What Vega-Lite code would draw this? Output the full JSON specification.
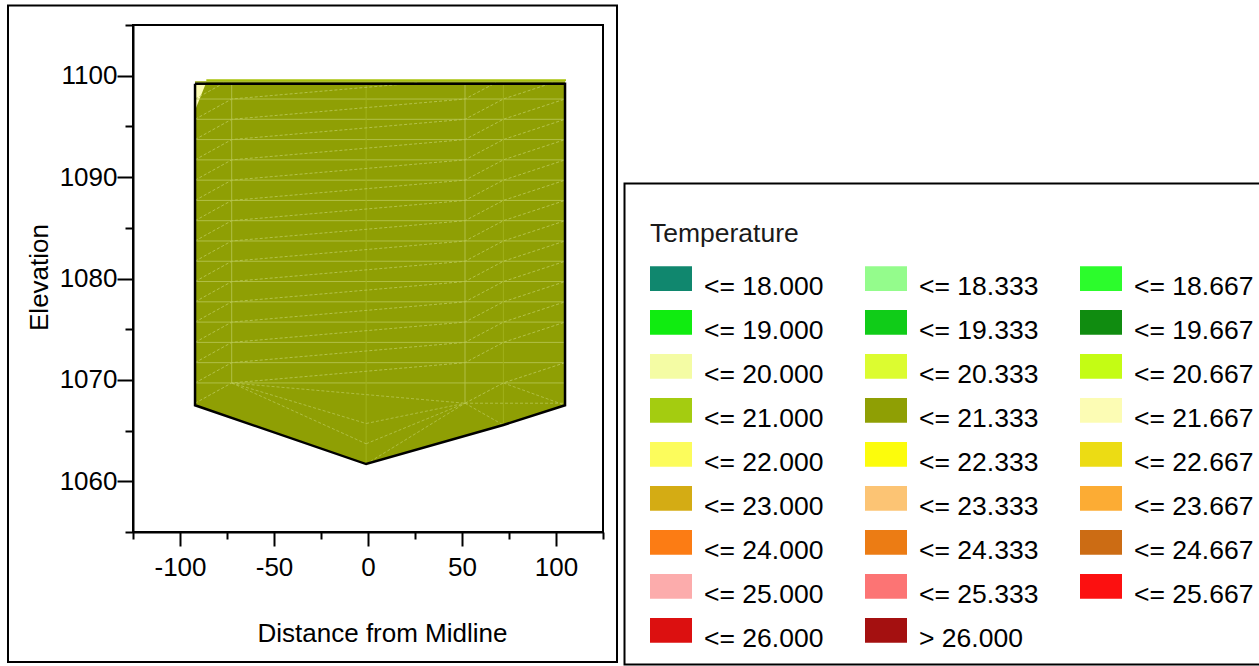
{
  "$schema": "https://vega.github.io/schema/vega-lite/v6.json",
  "width": 470,
  "height": 507,
  "autosize": {"type": "none"},
  "padding": {"left": 133, "top": 25, "right": 656, "bottom": 134},
  "background": "white",
  "config": {
    "view": {"stroke": "black", "strokeWidth": 2},
    "font": "Liberation Sans"
  },
  "datasets": {
    "poly": [
      {"x": -92, "y": 1067.5, "top": 1099.45, "cls": "<= 21.333"},
      {"x": -1, "y": 1061.7, "top": 1099.45, "cls": "<= 21.333"},
      {"x": 72, "y": 1065.55, "top": 1099.45, "cls": "<= 21.333"},
      {"x": 104.8, "y": 1067.5, "top": 1099.45, "cls": "<= 21.333"},
      {"x": -92, "y": 1096.6, "top": 1099.3, "cls": "<= 21.667"},
      {"x": -86.1, "y": 1099.3, "top": 1099.3, "cls": "<= 21.667"}
    ],
    "outline": [
      {"i": 0, "x": -92, "y": 1099.2},
      {"i": 1, "x": -92, "y": 1067.5},
      {"i": 2, "x": -1, "y": 1061.7},
      {"i": 3, "x": 72, "y": 1065.55},
      {"i": 4, "x": 104.8, "y": 1067.5},
      {"i": 5, "x": 104.8, "y": 1099.2},
      {"i": 6, "x": -92, "y": 1099.2}
    ],
    "hlines": [
      {"y": 1069.7}, {"y": 1071.7}, {"y": 1073.7}, {"y": 1075.7}, {"y": 1077.7},
      {"y": 1079.7}, {"y": 1081.7}, {"y": 1083.7}, {"y": 1085.7}, {"y": 1087.7},
      {"y": 1089.7}, {"y": 1091.7}, {"y": 1093.7}, {"y": 1095.7}, {"y": 1097.7}
    ],
    "vstrong": [{"x": -72.5, "y": 1069.7}, {"x": 51.6, "y": 1067.7}],
    "vfaint": [{"x": -1, "y": 1061.7}, {"x": 72, "y": 1065.55}],
    "chains": [
      {"c": "j0", "x": -92, "y": 1067.7}, {"c": "j0", "x": -72.5, "y": 1069.7}, {"c": "j0", "x": 51.6, "y": 1071.7}, {"c": "j0", "x": 72, "y": 1073.7}, {"c": "j0", "x": 104.8, "y": 1075.7},
      {"c": "j1", "x": -92, "y": 1069.7}, {"c": "j1", "x": -72.5, "y": 1071.7}, {"c": "j1", "x": 51.6, "y": 1073.7}, {"c": "j1", "x": 72, "y": 1075.7}, {"c": "j1", "x": 104.8, "y": 1077.7},
      {"c": "j2", "x": -92, "y": 1071.7}, {"c": "j2", "x": -72.5, "y": 1073.7}, {"c": "j2", "x": 51.6, "y": 1075.7}, {"c": "j2", "x": 72, "y": 1077.7}, {"c": "j2", "x": 104.8, "y": 1079.7},
      {"c": "j3", "x": -92, "y": 1073.7}, {"c": "j3", "x": -72.5, "y": 1075.7}, {"c": "j3", "x": 51.6, "y": 1077.7}, {"c": "j3", "x": 72, "y": 1079.7}, {"c": "j3", "x": 104.8, "y": 1081.7},
      {"c": "j4", "x": -92, "y": 1075.7}, {"c": "j4", "x": -72.5, "y": 1077.7}, {"c": "j4", "x": 51.6, "y": 1079.7}, {"c": "j4", "x": 72, "y": 1081.7}, {"c": "j4", "x": 104.8, "y": 1083.7},
      {"c": "j5", "x": -92, "y": 1077.7}, {"c": "j5", "x": -72.5, "y": 1079.7}, {"c": "j5", "x": 51.6, "y": 1081.7}, {"c": "j5", "x": 72, "y": 1083.7}, {"c": "j5", "x": 104.8, "y": 1085.7},
      {"c": "j6", "x": -92, "y": 1079.7}, {"c": "j6", "x": -72.5, "y": 1081.7}, {"c": "j6", "x": 51.6, "y": 1083.7}, {"c": "j6", "x": 72, "y": 1085.7}, {"c": "j6", "x": 104.8, "y": 1087.7},
      {"c": "j7", "x": -92, "y": 1081.7}, {"c": "j7", "x": -72.5, "y": 1083.7}, {"c": "j7", "x": 51.6, "y": 1085.7}, {"c": "j7", "x": 72, "y": 1087.7}, {"c": "j7", "x": 104.8, "y": 1089.7},
      {"c": "j8", "x": -92, "y": 1083.7}, {"c": "j8", "x": -72.5, "y": 1085.7}, {"c": "j8", "x": 51.6, "y": 1087.7}, {"c": "j8", "x": 72, "y": 1089.7}, {"c": "j8", "x": 104.8, "y": 1091.7},
      {"c": "j9", "x": -92, "y": 1085.7}, {"c": "j9", "x": -72.5, "y": 1087.7}, {"c": "j9", "x": 51.6, "y": 1089.7}, {"c": "j9", "x": 72, "y": 1091.7}, {"c": "j9", "x": 104.8, "y": 1093.7},
      {"c": "j10", "x": -92, "y": 1087.7}, {"c": "j10", "x": -72.5, "y": 1089.7}, {"c": "j10", "x": 51.6, "y": 1091.7}, {"c": "j10", "x": 72, "y": 1093.7}, {"c": "j10", "x": 104.8, "y": 1095.7},
      {"c": "j11", "x": -92, "y": 1089.7}, {"c": "j11", "x": -72.5, "y": 1091.7}, {"c": "j11", "x": 51.6, "y": 1093.7}, {"c": "j11", "x": 72, "y": 1095.7}, {"c": "j11", "x": 104.8, "y": 1097.7},
      {"c": "j12", "x": -92, "y": 1091.7}, {"c": "j12", "x": -72.5, "y": 1093.7}, {"c": "j12", "x": 51.6, "y": 1095.7}, {"c": "j12", "x": 72, "y": 1097.7}, {"c": "j12", "x": 98.2, "y": 1099.3},
      {"c": "j13", "x": -92, "y": 1093.7}, {"c": "j13", "x": -72.5, "y": 1095.7}, {"c": "j13", "x": 51.6, "y": 1097.7}, {"c": "j13", "x": 67.9, "y": 1099.3},
      {"c": "j14", "x": -92, "y": 1095.7}, {"c": "j14", "x": -72.5, "y": 1097.7}, {"c": "j14", "x": 26.8, "y": 1099.3},
      {"c": "j15", "x": -92, "y": 1097.7}, {"c": "j15", "x": -76.4, "y": 1099.3},
      {"c": "k1", "x": 51.6, "y": 1067.7}, {"c": "k1", "x": 72, "y": 1069.7}, {"c": "k1", "x": 104.8, "y": 1071.7}
    ],
    "fans": [
      {"s": "a", "x": -72.5, "y": 1069.7}, {"s": "a", "x": -1, "y": 1065.7},
      {"s": "b", "x": -72.5, "y": 1069.7}, {"s": "b", "x": -1, "y": 1063.7},
      {"s": "c", "x": -1, "y": 1065.7}, {"s": "c", "x": 51.6, "y": 1067.7},
      {"s": "d", "x": -1, "y": 1063.7}, {"s": "d", "x": 51.6, "y": 1067.7},
      {"s": "e", "x": -1, "y": 1061.7}, {"s": "e", "x": 51.6, "y": 1067.7},
      {"s": "f", "x": 51.6, "y": 1067.7}, {"s": "f", "x": 72, "y": 1065.55},
      {"s": "g", "x": 72, "y": 1069.7}, {"s": "g", "x": 104.8, "y": 1067.5},
      {"s": "h", "x": 51.6, "y": 1067.7}, {"s": "h", "x": 104.8, "y": 1067.7},
      {"s": "i", "x": -72.5, "y": 1069.7}, {"s": "i", "x": 51.6, "y": 1067.7}
    ]
  },
  "layer": [
    {
      "data": {"name": "poly"},
      "mark": {"type": "area", "opacity": 1},
      "encoding": {
        "x": {
          "field": "x",
          "type": "quantitative",
          "scale": {"domain": [-125, 125], "nice": false, "zero": false},
          "axis": {
            "title": "Distance from Midline",
            "values": [-125, -100, -75, -50, -25, 0, 25, 50, 75, 100, 125],
            "labelExpr": "datum.value % 50 === 0 ? '' + datum.value : ''",
            "grid": false,
            "domainColor": "black",
            "domainWidth": 2,
            "tickColor": "black",
            "tickWidth": 2,
            "tickSize": {"condition": {"test": "datum.value % 50 === 0", "value": 14}, "value": 7},
            "labelFont": "Liberation Sans",
            "labelFontSize": 26,
            "labelColor": "black",
            "labelPadding": 8,
            "labelFlush": false,
            "labelOverlap": false,
            "titleFont": "Liberation Sans",
            "titleFontSize": 26,
            "titleFontWeight": "normal",
            "titleColor": "black",
            "titleX": 249,
            "titleY": 109,
            "titleAlign": "center",
            "titleBaseline": "alphabetic"
          }
        },
        "y": {
          "field": "y",
          "type": "quantitative",
          "stack": null,
          "scale": {"domain": [1055, 1105], "nice": false, "zero": false},
          "axis": {
            "title": "Elevation",
            "values": [1055, 1060, 1065, 1070, 1075, 1080, 1085, 1090, 1095, 1100, 1105],
            "labelExpr": "datum.value % 10 === 0 ? '' + datum.value : ''",
            "grid": false,
            "domainColor": "black",
            "domainWidth": 2,
            "tickColor": "black",
            "tickWidth": 2,
            "tickSize": {"condition": {"test": "datum.value % 10 === 0", "value": 16}, "value": 8},
            "labelFont": "Liberation Sans",
            "labelFontSize": 26,
            "labelColor": "black",
            "labelPadding": 0,
            "labelFlush": false,
            "labelOverlap": false,
            "titleFont": "Liberation Sans",
            "titleFontSize": 26,
            "titleFontWeight": "normal",
            "titleColor": "black",
            "titleX": -86,
            "titleY": 252,
            "titleAngle": -90,
            "titleAlign": "center",
            "titleBaseline": "alphabetic"
          }
        },
        "y2": {"field": "top"},
        "color": {
          "field": "cls",
          "type": "nominal",
          "scale": {
            "domain": ["<= 18.000", "<= 18.333", "<= 18.667", "<= 19.000", "<= 19.333", "<= 19.667", "<= 20.000", "<= 20.333", "<= 20.667", "<= 21.000", "<= 21.333", "<= 21.667", "<= 22.000", "<= 22.333", "<= 22.667", "<= 23.000", "<= 23.333", "<= 23.667", "<= 24.000", "<= 24.333", "<= 24.667", "<= 25.000", "<= 25.333", "<= 25.667", "<= 26.000", "> 26.000"],
            "range": ["#10876e", "#94fc8c", "#2cfc2c", "#10ec10", "#10cc18", "#108c10", "#f4fca4", "#dcfc30", "#c4fc14", "#a4cc10", "#8f9f04", "#fcfcb4", "#fcfc5c", "#fcfc0c", "#ecdc14", "#d4ac14", "#fcc474", "#fcac34", "#fc7c14", "#ec7c14", "#cc6c14", "#fcacac", "#fc7474", "#fc1010", "#dc1010", "#a41010"]
          },
          "legend": {
            "title": "Temperature",
            "orient": "none",
            "direction": "horizontal",
            "legendX": 517,
            "legendY": 196,
            "padding": 0,
            "columns": 3,
            "columnPadding": 41,
            "rowPadding": 9,
            "symbolType": "M-1,-1H1V0.176H-1Z",
            "symbolSize": 1764,
            "symbolStrokeWidth": 0,
            "symbolOpacity": 1,
            "labelFont": "Liberation Sans",
            "labelFontSize": 26.5,
            "labelColor": "black",
            "labelOffset": 12,
            "labelLimit": 300,
            "titleFont": "Liberation Sans",
            "titleFontSize": 26.5,
            "titleFontWeight": "normal",
            "titleColor": "#1a1a1a",
            "titlePadding": 18.5,
            "titleAnchor": "start"
          }
        }
      }
    },
    {
      "data": {"values": [{}]},
      "mark": {"type": "rect", "filled": false, "stroke": "black", "strokeWidth": 2},
      "encoding": {
        "x": {"datum": -191.49, "type": "quantitative"},
        "x2": {"datum": 132.45},
        "y": {"datum": 1106.92, "type": "quantitative"},
        "y2": {"datum": 1042.18}
      }
    },
    {
      "data": {"values": [{}]},
      "mark": {"type": "rect", "filled": false, "stroke": "black", "strokeWidth": 2},
      "encoding": {
        "x": {"datum": 136.44, "type": "quantitative"},
        "x2": {"datum": 500},
        "y": {"datum": 1089.37, "type": "quantitative"},
        "y2": {"datum": 1041.93}
      }
    },
    {
      "data": {"name": "hlines"},
      "mark": {"type": "rule", "color": "#b7c552", "strokeWidth": 1, "opacity": 0.85},
      "encoding": {
        "y": {"field": "y", "type": "quantitative"},
        "x": {"datum": -92, "type": "quantitative"},
        "x2": {"datum": 104.8}
      }
    },
    {
      "data": {"name": "vstrong"},
      "mark": {"type": "rule", "color": "#b7c552", "strokeWidth": 1, "opacity": 0.85},
      "encoding": {
        "x": {"field": "x", "type": "quantitative"},
        "y": {"field": "y", "type": "quantitative"},
        "y2": {"datum": 1099.3}
      }
    },
    {
      "data": {"name": "vfaint"},
      "mark": {"type": "rule", "color": "#a0b11c", "strokeWidth": 1},
      "encoding": {
        "x": {"field": "x", "type": "quantitative"},
        "y": {"field": "y", "type": "quantitative"},
        "y2": {"datum": 1099.3}
      }
    },
    {
      "data": {"name": "chains"},
      "mark": {"type": "line", "color": "#b7c552", "strokeWidth": 1, "strokeDash": [3, 2], "opacity": 0.9},
      "encoding": {
        "x": {"field": "x", "type": "quantitative"},
        "y": {"field": "y", "type": "quantitative"},
        "detail": {"field": "c"}
      }
    },
    {
      "data": {"name": "fans"},
      "mark": {"type": "line", "color": "#b7c552", "strokeWidth": 1, "strokeDash": [3, 2], "opacity": 0.8},
      "encoding": {
        "x": {"field": "x", "type": "quantitative"},
        "y": {"field": "y", "type": "quantitative"},
        "detail": {"field": "s"}
      }
    },
    {
      "data": {"values": [{}]},
      "mark": {"type": "rule", "color": "#a8c20a", "strokeWidth": 2},
      "encoding": {
        "x": {"datum": -86, "type": "quantitative"},
        "x2": {"datum": 105.3},
        "y": {"datum": 1099.55, "type": "quantitative"}
      }
    },
    {
      "data": {"name": "outline"},
      "mark": {"type": "line", "color": "black", "strokeWidth": 2.5, "strokeJoin": "miter"},
      "encoding": {
        "x": {"field": "x", "type": "quantitative"},
        "y": {"field": "y", "type": "quantitative"},
        "order": {"field": "i"}
      }
    }
  ]
}
